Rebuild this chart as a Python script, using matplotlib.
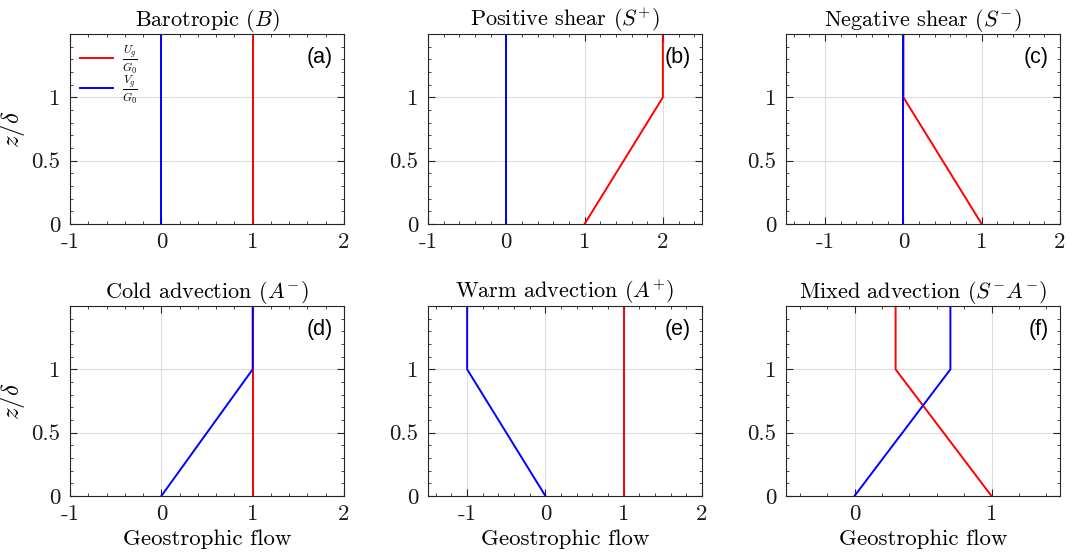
import numpy as np
import matplotlib
matplotlib.use('Agg')
import matplotlib.pyplot as plt
from matplotlib.ticker import MultipleLocator

plt.rcParams['font.family'] = 'serif'
plt.rcParams['font.serif'] = ['cmr10', 'DejaVu Serif']
plt.rcParams['mathtext.fontset'] = 'cm'
plt.rcParams['axes.unicode_minus'] = False

# heights (z/delta) where the profiles change
z = [0, 1, 1.5]

titles = ['Barotropic ($B$)', 'Positive shear ($S^{+}$)', 'Negative shear ($S^{-}$)',
          'Cold advection ($A^{-}$)', 'Warm advection ($A^{+}$)', 'Mixed advection ($S^{-}A^{-}$)']
tags = ['(a)', '(b)', '(c)', '(d)', '(e)', '(f)']

u_profiles = [[1, 1, 1], [1, 2, 2], [1, 0, 0], [1, 1, 1], [1, 1, 1], [1, 0.3, 0.3]]
v_profiles = [[0, 0, 0], [0, 0, 0], [0, 0, 0], [0, 1, 1], [0, -1, -1], [0, 0.7, 0.7]]

xlims = [(-1, 2), (-1, 2.5), (-1.5, 2), (-1, 2), (-1.5, 2), (-0.5, 1.5)]
xticks = [[-1, 0, 1, 2], [-1, 0, 1, 2], [-1, 0, 1, 2], [-1, 0, 1, 2], [-1, 0, 1, 2], [0, 1]]

fig = plt.figure(figsize=(10.75, 5.58), dpi=100)
W, H = 1075, 558
lefts = [70, 428, 786]
bottoms = [224, 496]
aw, ah = 274, 190

for i in range(6):
    r, c = divmod(i, 3)
    ax = fig.add_axes([lefts[c] / W, 1 - bottoms[r] / H, aw / W, ah / H])
    ax.plot(u_profiles[i], z, color='#ff0000', lw=1.4, label=r'$\frac{U_g}{G_0}$')
    ax.plot(v_profiles[i], z, color='#0000ff', lw=1.4, label=r'$\frac{V_g}{G_0}$')
    ax.set_xlim(xlims[i])
    ax.set_ylim(0, 1.5)
    ax.set_xticks(xticks[i])
    ax.set_xticklabels([str(t) for t in xticks[i]])
    ax.set_yticks([0, 0.5, 1])
    ax.set_yticklabels(['0', '0.5', '1'])
    ax.xaxis.set_minor_locator(MultipleLocator(0.2))
    ax.yaxis.set_minor_locator(MultipleLocator(0.1))
    ax.tick_params(which='both', direction='in', top=True, right=True, colors='#262626',
                   labelcolor='#1a1a1a', labelsize=16.5)
    ax.tick_params(axis='y', pad=7)
    ax.tick_params(axis='x', pad=6)
    ax.tick_params(which='major', length=5, width=0.8)
    ax.tick_params(which='minor', length=2.5, width=0.6)
    ax.grid(True, which='major', color='#dcdcdc', lw=0.8)
    ax.set_axisbelow(True)
    for s in ax.spines.values():
        s.set_color('#262626')
        s.set_linewidth(0.8)
    ax.set_title(titles[i], fontsize=16, pad=5)
    ax.text(0.96, 0.93, tags[i], transform=ax.transAxes, ha='right', va='top',
            fontsize=15.5, family='Liberation Sans')
    if c == 0:
        ax.set_ylabel(r'$z/\delta$', fontsize=18, labelpad=3)
    if r == 1:
        ax.set_xlabel('Geostrophic flow', fontsize=16.5, labelpad=4)
    if i == 0:
        ax.legend(loc='upper left', frameon=False, fontsize=12, handlelength=2.0,
                  borderaxespad=0.2, labelspacing=-0.12, handletextpad=0.5)

fig.savefig('out.png', dpi=100)
